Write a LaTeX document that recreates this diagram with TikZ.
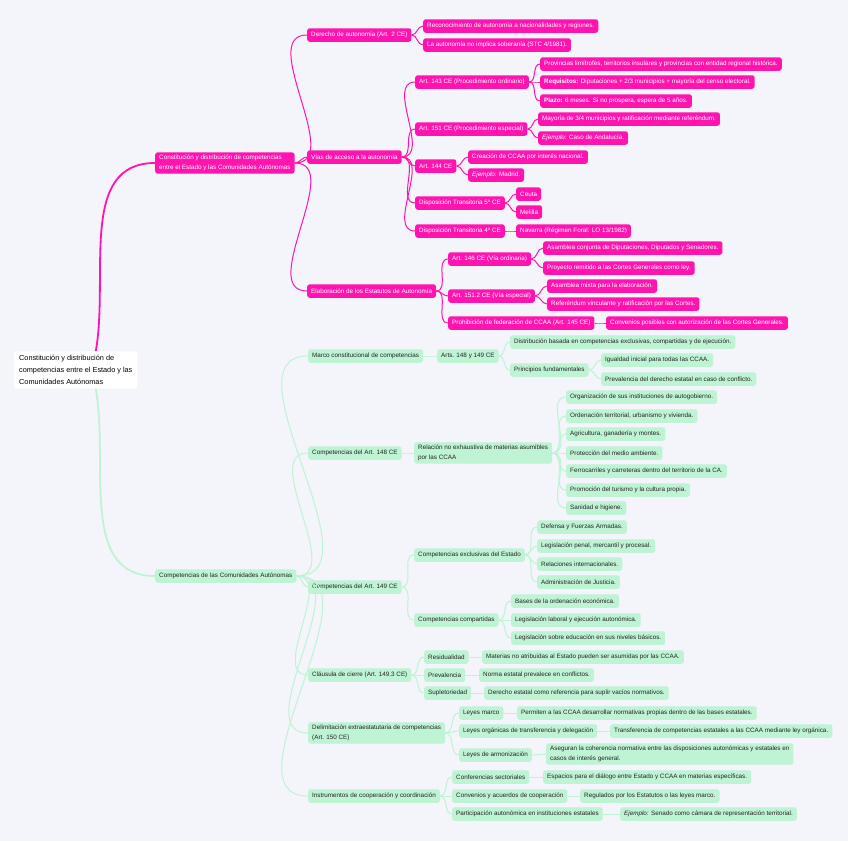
\documentclass[tikz,border=0pt]{standalone}
\usepackage{fontspec}
\setmainfont{Liberation Sans}
\usepackage{xcolor}
\usepackage{tikz}
\usetikzlibrary{positioning}
\definecolor{pinkc}{RGB}{255,20,175}
\definecolor{mintc}{RGB}{190,243,212}
\definecolor{mintline}{RGB}{190,243,212}
\definecolor{bgc}{RGB}{243,245,250}
\definecolor{inkc}{RGB}{35,35,35}
\newcommand{\branch}[3]{\foreach \c in {#3} {\draw[#1] (#2.east) to (\c.west);}}

\begin{document}
\begin{tikzpicture}[x=1pt,y=-1pt,
  box/.style={rounded corners=2.5pt,inner xsep=4pt,inner ysep=2.4pt,minimum height=13.5pt,
    anchor=west,align=left,font=\fontsize{6.3}{10.5}\selectfont},
  pbox/.style={box,fill=pinkc,text=white},
  gbox/.style={box,fill=mintc,text=inkc},
  rootbox/.style={fill=white,rounded corners=3pt,inner xsep=5pt,inner ysep=4pt,anchor=west,
    align=left,text=black,font=\fontsize{7.3}{12}\selectfont},
  plink/.style={draw=pinkc,line width=1pt,out=0,in=180},
  glink/.style={draw=mintline,line width=1pt,out=0,in=180}]
  % page
  \useasboundingbox[fill=bgc] (0,0) rectangle (848,841);
  % root
  \node[rootbox] (root) at (14,370) {Constitución y distribución de\\competencias entre el Estado y las\\Comunidades Autónomas};

  % pink branch
  \node[pbox] (pk) at (155,163) {Constitución y distribución de competencias\\entre el Estado y las Comunidades Autónomas};
  \node[pbox] (A) at (307,35) {Derecho de autonomía (Art. 2 CE)};
  \node[pbox] (A1) at (423,26) {Reconocimiento de autonomía a nacionalidades y regiones.};
  \node[pbox] (A2) at (423,45) {La autonomía no implica soberanía (STC 4/1981).};
  \node[pbox] (B) at (307,157) {Vías de acceso a la autonomía};
  \node[pbox] (B1) at (415,82) {Art. 143 CE (Procedimiento ordinario)};
  \node[pbox] (B11) at (540,64) {Provincias limítrofes, territorios insulares y provincias con entidad regional histórica.};
  \node[pbox] (B12) at (540,82) {\textbf{Requisitos:} Diputaciones + 2/3 municipios + mayoría del censo electoral.};
  \node[pbox] (B13) at (540,101) {\textbf{Plazo:} 6 meses. Si no prospera, espera de 5 años.};
  \node[pbox] (B2) at (415,129) {Art. 151 CE (Procedimiento especial)};
  \node[pbox] (B21) at (538,119) {Mayoría de 3/4 municipios y ratificación mediante referéndum.};
  \node[pbox] (B22) at (538,138) {\textit{Ejemplo:} Caso de Andalucía.};
  \node[pbox] (B3) at (415,166) {Art. 144 CE};
  \node[pbox] (B31) at (468,157) {Creación de CCAA por interés nacional.};
  \node[pbox] (B32) at (468,175) {\textit{Ejemplo:} Madrid.};
  \node[pbox] (B4) at (415,203) {Disposición Transitoria 5ª CE};
  \node[pbox] (B41) at (516,194) {Ceuta};
  \node[pbox] (B42) at (516,212) {Melilla};
  \node[pbox] (B5) at (415,231) {Disposición Transitoria 4ª CE};
  \node[pbox] (B51) at (516,231) {Navarra (Régimen Foral: LO 13/1982)};
  \node[pbox] (C) at (307,291) {Elaboración de los Estatutos de Autonomía};
  \node[pbox] (C1) at (448,259) {Art. 146 CE (Vía ordinaria)};
  \node[pbox] (C11) at (543,248) {Asamblea conjunta de Diputaciones, Diputados y Senadores.};
  \node[pbox] (C12) at (543,268) {Proyecto remitido a las Cortes Generales como ley.};
  \node[pbox] (C2) at (448,296) {Art. 151.2 CE (Vía especial)};
  \node[pbox] (C21) at (547,286) {Asamblea mixta para la elaboración.};
  \node[pbox] (C22) at (547,304) {Referéndum vinculante y ratificación por las Cortes.};
  \node[pbox] (C3) at (448,323) {Prohibición de federación de CCAA (Art. 145 CE)};
  \node[pbox] (C31) at (606,323) {Convenios posibles con autorización de las Cortes Generales.};

  % green branch
  \node[gbox] (gr) at (155,576) {Competencias de las Comunidades Autónomas};
  \node[gbox] (D) at (308,356) {Marco constitucional de competencias};
  \node[gbox] (D1) at (437,356) {Arts. 148 y 149 CE};
  \node[gbox] (D11) at (510,342) {Distribución basada en competencias exclusivas, compartidas y de ejecución.};
  \node[gbox] (D12) at (510,370) {Principios fundamentales};
  \node[gbox] (D121) at (601,360) {Igualdad inicial para todas las CCAA.};
  \node[gbox] (D122) at (601,379) {Prevalencia del derecho estatal en caso de conflicto.};
  \node[gbox] (E) at (308,453) {Competencias del Art. 148 CE};
  \node[gbox] (E1) at (414,453) {Relación no exhaustiva de materias asumibles\\por las CCAA};
  \node[gbox] (E11) at (566,397) {Organización de sus instituciones de autogobierno.};
  \node[gbox] (E12) at (566,416) {Ordenación territorial, urbanismo y vivienda.};
  \node[gbox] (E13) at (566,434) {Agricultura, ganadería y montes.};
  \node[gbox] (E14) at (566,453) {Protección del medio ambiente.};
  \node[gbox] (E15) at (566,471) {Ferrocarriles y carreteras dentro del territorio de la CA.};
  \node[gbox] (E16) at (566,490) {Promoción del turismo y la cultura propia.};
  \node[gbox] (E17) at (566,508) {Sanidad e higiene.};
  \node[gbox] (F) at (308,587) {Competencias del Art. 149 CE};
  \node[gbox] (F1) at (414,555) {Competencias exclusivas del Estado};
  \node[gbox] (F11) at (537,527) {Defensa y Fuerzas Armadas.};
  \node[gbox] (F12) at (537,546) {Legislación penal, mercantil y procesal.};
  \node[gbox] (F13) at (537,564) {Relaciones internacionales.};
  \node[gbox] (F14) at (537,582) {Administración de Justicia.};
  \node[gbox] (F2) at (414,620) {Competencias compartidas};
  \node[gbox] (F21) at (511,601) {Bases de la ordenación económica.};
  \node[gbox] (F22) at (511,620) {Legislación laboral y ejecución autonómica.};
  \node[gbox] (F23) at (511,638) {Legislación sobre educación en sus niveles básicos.};
  \node[gbox] (K) at (308,675) {Cláusula de cierre (Art. 149.3 CE)};
  \node[gbox] (K1) at (424,657) {Residualidad};
  \node[gbox] (K11) at (482,657) {Materias no atribuidas al Estado pueden ser asumidas por las CCAA.};
  \node[gbox] (K2) at (424,675) {Prevalencia};
  \node[gbox] (K21) at (479,675) {Norma estatal prevalece en conflictos.};
  \node[gbox] (K3) at (424,693) {Supletoriedad};
  \node[gbox] (K31) at (484,693) {Derecho estatal como referencia para suplir vacíos normativos.};
  \node[gbox] (H) at (308,733) {Delimitación extraestatutaria de competencias\\(Art. 150 CE)};
  \node[gbox] (H1) at (459,713) {Leyes marco};
  \node[gbox] (H11) at (517,713) {Permiten a las CCAA desarrollar normativas propias dentro de las bases estatales.};
  \node[gbox] (H2) at (459,731) {Leyes orgánicas de transferencia y delegación};
  \node[gbox] (H21) at (610,731) {Transferencia de competencias estatales a las CCAA mediante ley orgánica.};
  \node[gbox] (H3) at (459,755) {Leyes de armonización};
  \node[gbox] (H31) at (546,754) {Aseguran la coherencia normativa entre las disposiciones autonómicas y estatales en\\casos de interés general.};
  \node[gbox] (I) at (308,796) {Instrumentos de cooperación y coordinación};
  \node[gbox] (I1) at (452,777) {Conferencias sectoriales};
  \node[gbox] (I11) at (543,777) {Espacios para el diálogo entre Estado y CCAA en materias específicas.};
  \node[gbox] (I2) at (452,796) {Convenios y acuerdos de cooperación};
  \node[gbox] (I21) at (580,796) {Regulados por los Estatutos o las leyes marco.};
  \node[gbox] (I3) at (452,814) {Participación autonómica en instituciones estatales};
  \node[gbox] (I31) at (620,814) {\textit{Ejemplo:} Senado como cámara de representación territorial.};

  % connectors from the root
  \draw[plink,line width=1.8pt] ([xshift=20]root.north) to[out=80,in=180] (pk.west);
  \draw[glink,line width=1.8pt] ([xshift=20]root.south) to[out=-80,in=180] (gr.west);
  % pink connectors
  \branch{plink}{pk}{A,B,C}
  \branch{plink}{A}{A1,A2}
  \branch{plink}{B}{B1,B2,B3,B4,B5}
  \branch{plink}{B1}{B11,B12,B13}
  \branch{plink}{B2}{B21,B22}
  \branch{plink}{B3}{B31,B32}
  \branch{plink}{B4}{B41,B42}
  \branch{plink}{B5}{B51}
  \branch{plink}{C}{C1,C2,C3}
  \branch{plink}{C1}{C11,C12}
  \branch{plink}{C2}{C21,C22}
  \branch{plink}{C3}{C31}
  % green connectors
  \branch{glink}{gr}{D,E,F,K,H,I}
  \branch{glink}{D}{D1}
  \branch{glink}{D1}{D11,D12}
  \branch{glink}{D12}{D121,D122}
  \branch{glink}{E}{E1}
  \branch{glink}{E1}{E11,E12,E13,E14,E15,E16,E17}
  \branch{glink}{F}{F1,F2}
  \branch{glink}{F1}{F11,F12,F13,F14}
  \branch{glink}{F2}{F21,F22,F23}
  \branch{glink}{K}{K1,K2,K3}
  \branch{glink}{K1}{K11}
  \branch{glink}{K2}{K21}
  \branch{glink}{K3}{K31}
  \branch{glink}{H}{H1,H2,H3}
  \branch{glink}{H1}{H11}
  \branch{glink}{H2}{H21}
  \branch{glink}{H3}{H31}
  \branch{glink}{I}{I1,I2,I3}
  \branch{glink}{I1}{I11}
  \branch{glink}{I2}{I21}
  \branch{glink}{I3}{I31}
\end{tikzpicture}
\end{document}
